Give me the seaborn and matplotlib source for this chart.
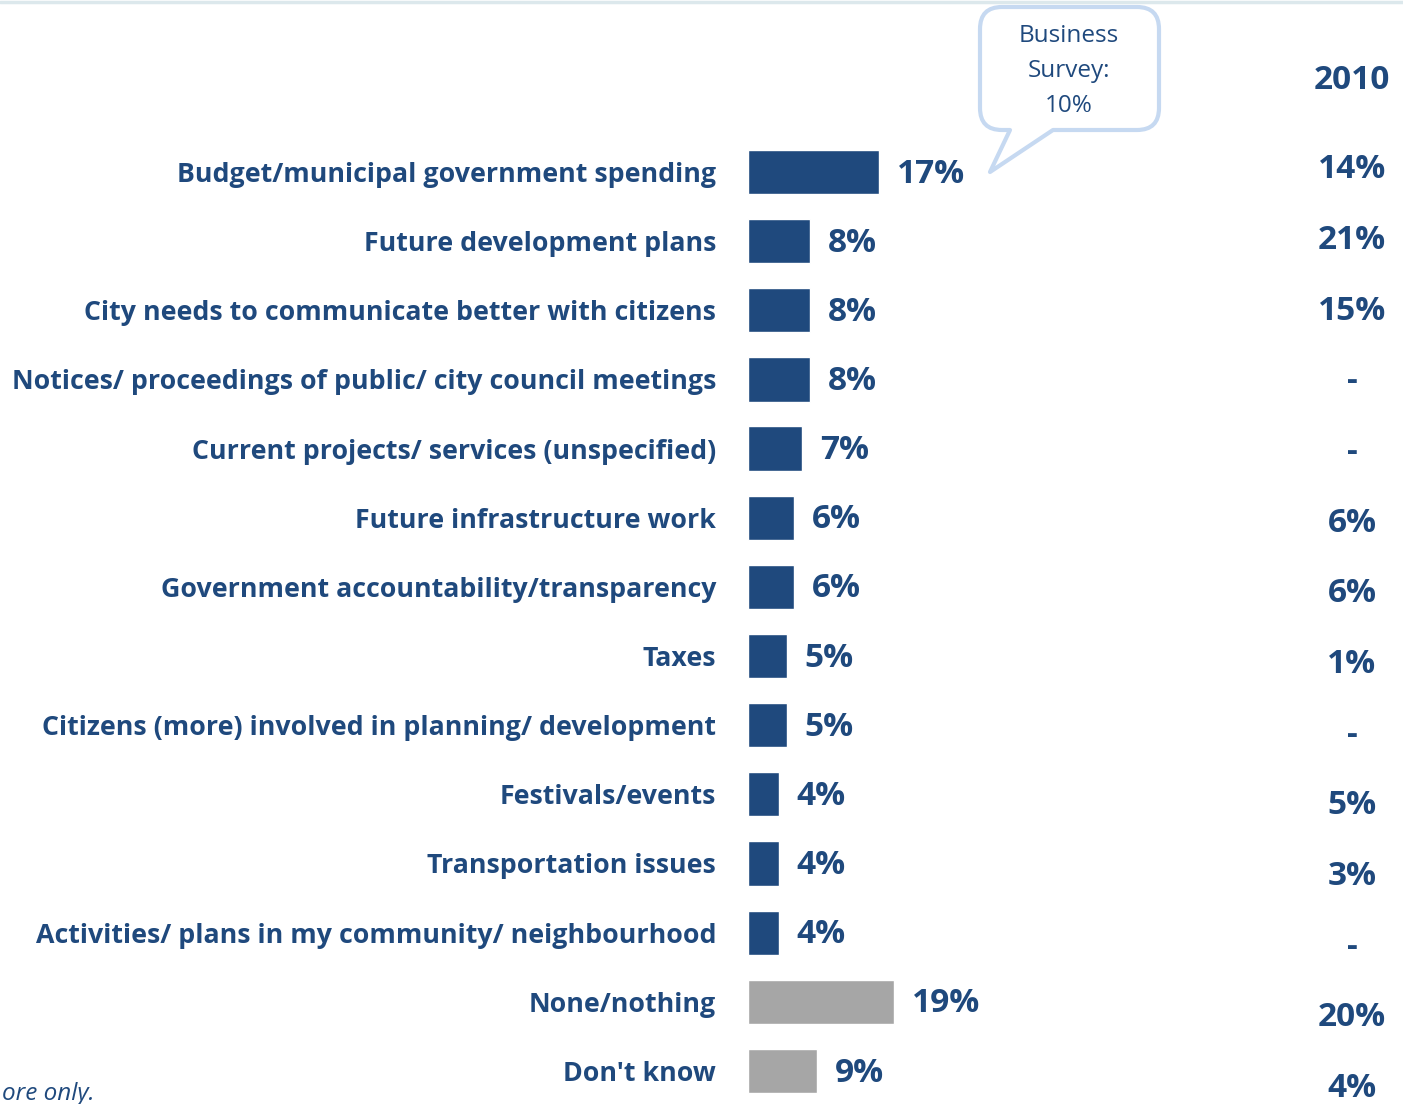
import numpy as np
import pandas as pd
import matplotlib
matplotlib.use("Agg")
import matplotlib.pyplot as plt
from matplotlib.path import Path
from matplotlib.patches import PathPatch
import seaborn as sns

# ---- data ----
categories = [
    "Budget/municipal government spending",
    "Future development plans",
    "City needs to communicate better with citizens",
    "Notices/ proceedings of public/ city council meetings",
    "Current projects/ services (unspecified)",
    "Future infrastructure work",
    "Government accountability/transparency",
    "Taxes",
    "Citizens (more) involved in planning/ development",
    "Festivals/events",
    "Transportation issues",
    "Activities/ plans in my community/ neighbourhood",
    "None/nothing",
    "Don't know",
]
values_current = [17, 8, 8, 8, 7, 6, 6, 5, 5, 4, 4, 4, 19, 9]
values_2010 = ["14%", "21%", "15%", "-", "-", "6%", "6%", "1%", "-", "5%", "3%", "-", "20%", "4%"]
response_type = ["topic"] * 12 + ["none"] * 2
header_2010 = "2010"
callout_text = "Business\nSurvey:\n10%"
footnote_text = "ore only."

DARK_BLUE = "#1F497D"
GREY = "#A6A6A6"
CALLOUT_EDGE = "#C6D9F1"

W, H = 1403, 1104
sns.set_theme(style="white")
plt.rcParams["font.family"] = ["Open Sans", "DejaVu Sans"]

fig = plt.figure(figsize=(W / 100, H / 100), dpi=100)
fig.patch.set_facecolor("white")

# bars axis: x=0 sits at pixel 748, ~7.7 px per percentage point
px_per_pct = 7.7
ax_left = 748
ax = fig.add_axes([ax_left / W, 0, (W - ax_left) / W, 1])

df = pd.DataFrame({"category": categories, "value": values_current, "type": response_type})
colors = [DARK_BLUE if t == "topic" else GREY for t in response_type]
sns.barplot(data=df, x="value", y="category", hue="category", palette=colors,
            legend=False, orient="h", width=0.64, ax=ax, saturation=1)

row_px = 69.15
first_row_px = 172
ax.set_xlim(0, (W - ax_left) / px_per_pct)
ax.set_ylim((H - first_row_px) / row_px, -first_row_px / row_px)

for s in ax.spines.values():
    s.set_visible(False)
ax.set_xticks([])
ax.set_xlabel("")
ax.set_ylabel("")
ax.tick_params(axis="y", length=0, pad=23)
for lab in ax.get_yticklabels():
    lab.set_fontsize(19.3)
    lab.set_fontweight("bold")
    lab.set_color(DARK_BLUE)

# value labels next to each bar
for i, v in enumerate(values_current):
    ax.text(v + 18 / px_per_pct, i + 0.03, f"{v}%", va="center", ha="left",
            fontsize=24, fontweight="bold", color=DARK_BLUE)

# 2010 comparison column
col_x = (1352 - ax_left) / px_per_pct
ax.text(col_x, (81 - first_row_px) / row_px, header_2010, ha="center", va="center",
        fontsize=24, fontweight="bold", color=DARK_BLUE)
for i, s in enumerate(values_2010):
    y = (170 + 70.65 * i - first_row_px) / row_px
    ax.text(col_x, y, s, ha="center", va="center",
            fontsize=24, fontweight="bold", color=DARK_BLUE)

# speech-bubble callout (pixel coordinates, y downward)
def fp(x, y):
    return (x / W, 1 - y / H)

x0, x1, y0, y1, r = 980, 1159, 7, 130, 22
verts = [
    fp(x0 + r, y0), fp(x1 - r, y0), fp(x1, y0), fp(x1, y0 + r),
    fp(x1, y1 - r), fp(x1, y1), fp(x1 - r, y1),
    fp(1053, y1), fp(990, 172), fp(1010, y1),
    fp(x0 + r, y1), fp(x0, y1), fp(x0, y1 - r),
    fp(x0, y0 + r), fp(x0, y0), fp(x0 + r, y0),
    fp(x0 + r, y0),
]
codes = [
    Path.MOVETO, Path.LINETO, Path.CURVE3, Path.CURVE3,
    Path.LINETO, Path.CURVE3, Path.CURVE3,
    Path.LINETO, Path.LINETO, Path.LINETO,
    Path.LINETO, Path.CURVE3, Path.CURVE3,
    Path.LINETO, Path.CURVE3, Path.CURVE3,
    Path.CLOSEPOLY,
]
bubble = PathPatch(Path(verts, codes), transform=fig.transFigure, facecolor="white",
                   edgecolor=CALLOUT_EDGE, linewidth=3, joinstyle="round", zorder=5)
fig.patches.append(bubble)
fig.text(1069 / W, 1 - 71 / H, callout_text, ha="center", va="center",
         fontsize=17.5, color=DARK_BLUE, linespacing=1.62, zorder=6)

# thin rule along the top edge
fig.add_artist(plt.Line2D([0, 1], [1 - 1.5 / H, 1 - 1.5 / H], transform=fig.transFigure,
                          color="#DCE8EC", linewidth=2.5))

# footnote fragment at bottom-left
fig.text(2 / W, 1 - 1082 / H, footnote_text, ha="left", va="top",
         fontsize=17.5, style="italic", color=DARK_BLUE)

fig.savefig("out.png", dpi=100, facecolor="white")
